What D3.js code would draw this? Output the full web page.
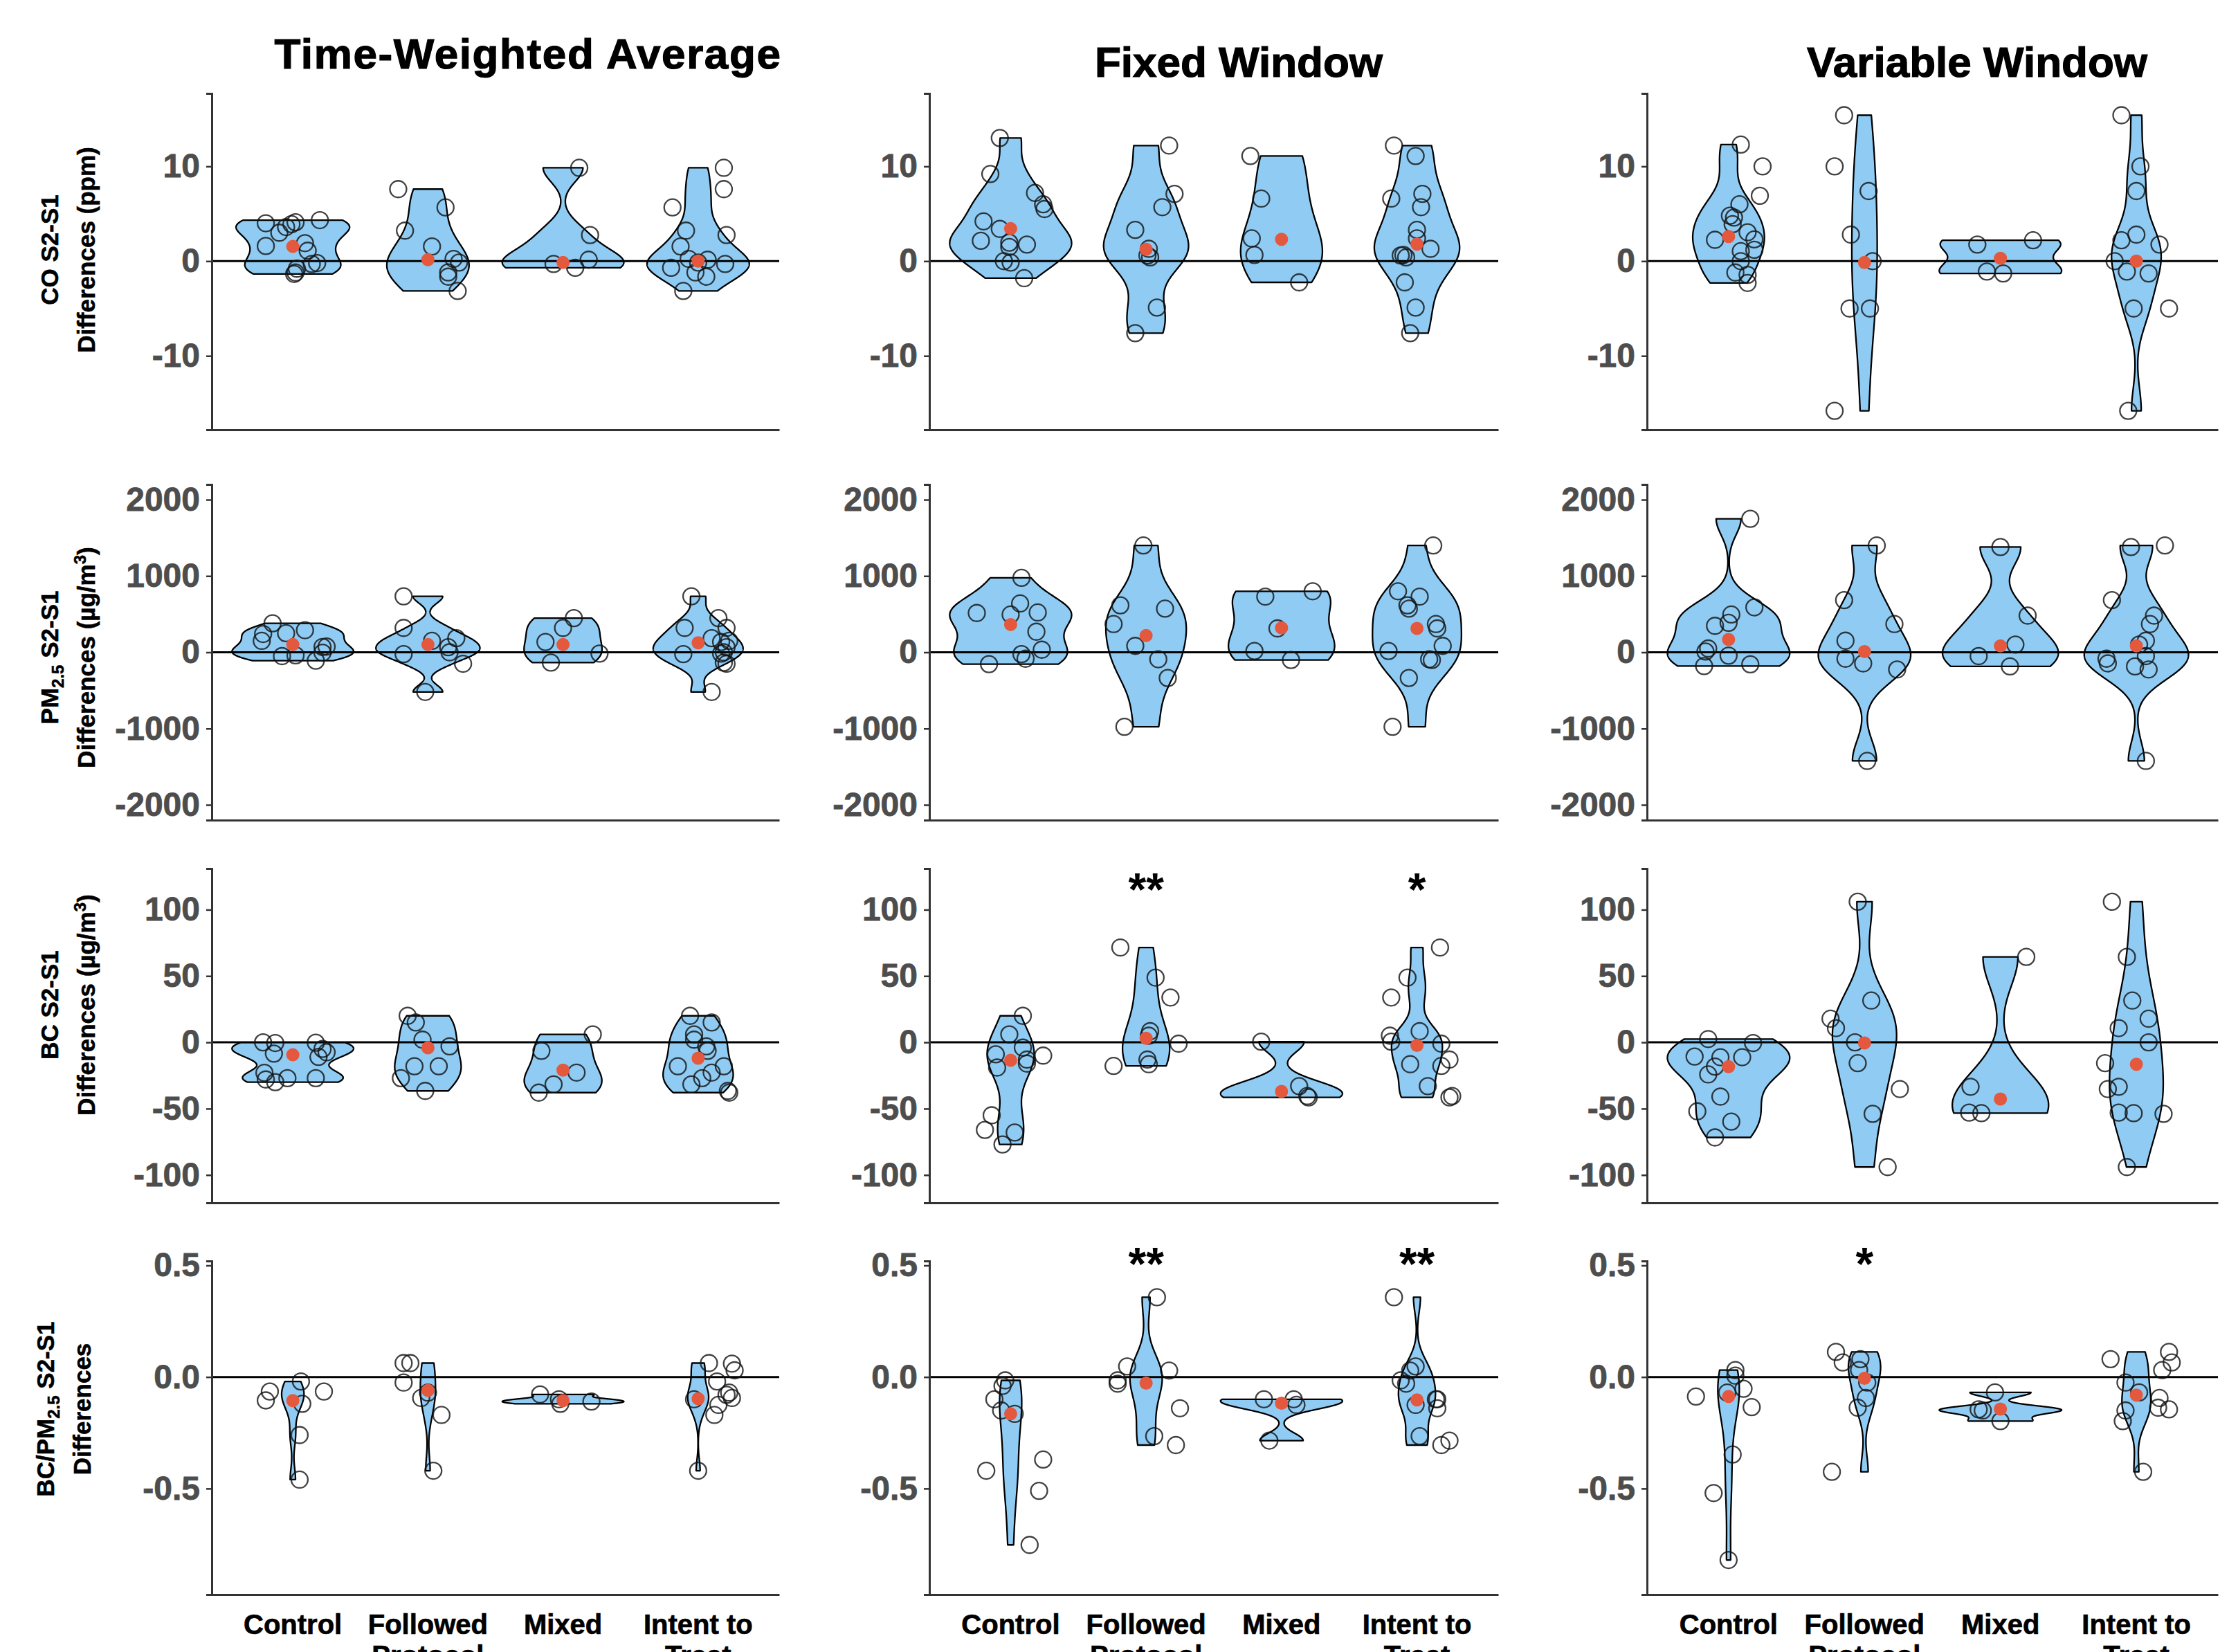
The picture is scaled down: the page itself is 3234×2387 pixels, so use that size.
<!DOCTYPE html>
<html>
<head>
<meta charset="utf-8">
<script src="https://cdn.jsdelivr.net/npm/d3@7"></script>
<style>
  body { margin: 0; background: #fff; }
  text { font-family: "Liberation Sans", Arial, Helvetica, sans-serif; }
</style>
</head>
<body>
<script>
// ---- data: each point is [jitter offset (category units), value] ----
var categories = ["Control", "Followed Protocol", "Mixed", "Intent to Treat"];
var catLines = [["Control"], ["Followed", "Protocol"], ["Mixed"], ["Intent to", "Treat"]];
var methods = ["Time-Weighted Average", "Fixed Window", "Variable Window"];

// CO S2-S1 (ppm)
var coTWA = [
  [[-0.20,4.0],[-0.10,3.0],[-0.05,3.6],[-0.01,3.9],[0.02,4.1],[0.20,4.33],[-0.20,1.6],[0.09,1.9],[0.11,1.1],[0.14,-0.3],[0.18,-0.2],[0.03,-0.8],[0.02,-1.2],[0.01,-1.35]],
  [[-0.22,7.6],[0.13,5.67],[-0.17,3.22],[0.03,1.55],[0.19,0.24],[0.23,-0.15],[0.15,-1.19],[0.15,-1.64],[0.22,-3.15]],
  [[0.12,9.85],[0.20,2.75],[0.19,0.15],[-0.07,-0.3],[0.09,-0.7]],
  [[0.19,9.85],[0.19,7.6],[-0.19,5.67],[-0.09,3.22],[0.21,2.75],[-0.13,1.55],[-0.07,0.24],[0.07,0.15],[0.0,-0.15],[0.2,-0.3],[-0.2,-0.7],[-0.02,-1.19],[0.06,-1.64],[-0.11,-3.15]]
];
var coFW = [
  [[-0.08,13.0],[-0.15,9.2],[0.18,7.2],[0.24,6.0],[0.25,5.5],[-0.20,4.2],[-0.08,3.4],[-0.22,2.15],[-0.01,1.95],[-0.01,1.5],[0.12,1.75],[-0.05,0.0],[0.0,-0.15],[0.10,-1.8]],
  [[0.17,12.2],[0.21,7.1],[0.12,5.7],[-0.08,3.3],[0.02,1.3],[0.01,0.6],[0.03,0.4],[0.08,-4.9],[-0.08,-7.6]],
  [[-0.23,11.1],[-0.15,6.6],[-0.22,2.4],[-0.2,0.65],[0.13,-2.24]],
  [[-0.17,12.2],[-0.01,11.1],[0.04,7.1],[-0.19,6.6],[0.03,5.7],[0.0,3.3],[0.0,2.4],[0.10,1.3],[-0.10,0.65],[-0.12,0.6],[-0.08,0.4],[-0.09,-2.24],[-0.01,-4.9],[-0.05,-7.6]]
];
var coVW = [
  [[0.09,12.3],[0.25,10.0],[0.23,6.9],[0.08,6.0],[0.01,4.8],[0.04,4.6],[0.03,3.9],[-0.10,2.25],[0.14,3.05],[0.19,2.3],[0.09,1.05],[0.19,1.2],[0.09,0.0],[0.05,-1.2],[0.14,-1.45],[0.14,-2.3]],
  [[-0.15,15.4],[-0.22,10.0],[0.03,7.4],[-0.10,2.8],[0.06,0.0],[-0.11,-5.0],[0.04,-5.0],[-0.22,-15.8]],
  [[-0.17,1.75],[0.24,2.2],[-0.10,-1.1],[0.02,-1.3]],
  [[-0.11,15.4],[0.03,10.0],[0.0,7.4],[0.0,2.8],[-0.11,2.2],[0.17,1.75],[-0.16,0.0],[-0.07,-1.1],[0.09,-1.3],[-0.02,-5.0],[0.24,-5.0],[-0.06,-15.8]]
];
var coMid = [[1.55, 0.15, -0.15, 0.0], [3.43, 1.25, 2.3, 1.8], [2.6, -0.15, 0.3, 0.0]];

// PM2.5 S2-S1 (ug/m3)
var pmTWA = [
  [[-0.15,380],[-0.22,240],[-0.23,150],[-0.05,250],[0.09,290],[-0.08,-50],[0.02,-40],[0.17,-110],[0.22,70],[0.25,75],[0.22,-5]],
  [[-0.18,734],[-0.18,320],[-0.18,-24],[0.03,150],[0.21,185],[0.15,67],[0.16,0],[0.26,-150],[-0.02,-520]],
  [[0.08,448],[0.0,320],[-0.13,135],[-0.09,-135],[0.27,-17]],
  [[-0.05,734],[0.15,448],[-0.10,320],[0.21,320],[0.10,185],[0.23,150],[0.17,135],[0.21,67],[0.19,0],[0.17,-17],[-0.11,-24],[0.19,-135],[0.21,-150],[0.10,-520]]
];
var pmFW = [
  [[0.08,976],[0.07,640],[-0.25,515],[0.0,495],[0.20,522],[0.19,270],[0.23,34],[0.08,-24],[0.11,-84],[-0.16,-155]],
  [[-0.02,1400],[-0.19,616],[0.14,572],[-0.24,370],[-0.08,84],[0.09,-91],[0.16,-337],[-0.16,-976]],
  [[-0.12,730],[0.23,800],[-0.03,313],[-0.20,17],[0.07,-101]],
  [[0.12,1400],[-0.14,800],[0.02,730],[-0.07,616],[-0.06,572],[0.14,370],[0.15,313],[0.19,84],[-0.21,17],[0.09,-91],[0.11,-101],[-0.06,-337],[-0.18,-976]]
];
var pmVW = [
  [[0.16,1750],[0.19,589],[0.02,495],[0.0,387],[-0.10,347],[-0.17,10],[-0.15,50],[0.0,-44],[-0.18,-180],[0.16,-158]],
  [[0.09,1400],[-0.15,684],[0.22,370],[-0.14,152],[-0.14,-84],[-0.01,-145],[0.24,-225],[0.02,-1424]],
  [[0.0,1380],[0.20,481],[0.11,101],[-0.16,-50],[0.07,-185]],
  [[0.21,1400],[-0.04,1380],[-0.18,684],[0.13,481],[0.10,370],[0.07,152],[0.02,101],[0.07,-50],[-0.22,-84],[-0.21,-145],[-0.01,-185],[0.09,-225],[0.07,-1424]]
];
var pmMid = [[101, 101, 101, 125], [364, 219, 320, 313], [168, 10, 84, 84]];

// BC S2-S1 (ug/m3)
var bcTWA = [
  [[-0.22,0],[-0.13,-0.5],[0.17,-0.3],[-0.14,-8.5],[0.22,-5],[0.25,-7.5],[0.19,-11],[-0.21,-23],[-0.20,-28],[-0.04,-27],[0.17,-27],[-0.13,-30]],
  [[-0.15,20],[-0.09,15],[-0.04,2],[0.16,-3],[0.08,-18],[-0.10,-18],[-0.20,-27],[-0.02,-36.6]],
  [[0.22,6],[-0.16,-6.4],[0.10,-22.8],[-0.07,-31.7],[-0.18,-37.9]],
  [[-0.06,20],[0.10,15],[-0.03,6],[-0.03,2],[0.06,-3],[0.07,-6.4],[-0.15,-18],[0.19,-18],[0.10,-22.8],[0.03,-27],[-0.05,-31.7],[0.22,-36.6],[0.23,-37.9]]
];
var bcFW = [
  [[0.09,20],[-0.01,6],[0.09,-4],[0.24,-10],[-0.11,-9],[0.12,-13],[0.12,-16],[-0.10,-19],[-0.14,-55],[-0.19,-66],[0.03,-68],[-0.06,-77]],
  [[-0.19,71.5],[0.07,48.8],[0.18,33.8],[0.03,8.4],[0.02,5],[0.24,-1],[0.01,-13],[0.02,-16.5],[-0.24,-17.8]],
  [[-0.15,0.5],[0.13,-33],[0.19,-40.5],[0.2,-41.5]],
  [[0.17,71.5],[-0.07,48.8],[-0.19,33.8],[0.02,8.4],[-0.20,5],[-0.19,0.5],[0.18,-1],[0.24,-13],[-0.05,-16.5],[0.18,-17.8],[0.08,-33],[0.26,-40.5],[0.24,-41.5]]
];
var bcVW = [
  [[-0.15,2.5],[0.18,-0.5],[-0.25,-10.7],[-0.06,-11.2],[0.10,-11.2],[-0.10,-18.3],[-0.15,-24.2],[-0.06,-40.9],[-0.23,-52],[0.02,-59.8],[-0.10,-71.7]],
  [[-0.05,106],[-0.25,17.8],[-0.21,10.7],[0.05,31.5],[-0.07,0],[-0.05,-15.7],[0.26,-35.2],[0.06,-53.9],[0.17,-94]],
  [[0.19,64.4],[-0.22,-33.5],[-0.23,-53],[-0.14,-53.4]],
  [[-0.18,106],[-0.07,64.4],[-0.03,31.5],[0.09,17.8],[-0.13,10.7],[0.09,0],[-0.23,-15.7],[-0.13,-33.5],[-0.21,-35.2],[-0.13,-53],[-0.02,-53.4],[0.20,-53.9],[-0.07,-94]]
];
var bcMid = [[-9.4, -4.1, -21, -12], [-13.5, 3.0, -37, -2.3], [-18.3, -0.5, -42.7, -16.5]];

// BC/PM2.5 S2-S1
var ratioTWA = [
  [[0.06,-0.02],[-0.17,-0.065],[-0.20,-0.105],[0.23,-0.065],[0.07,-0.12],[0.05,-0.26],[0.05,-0.46]],
  [[-0.18,0.0625],[-0.13,0.0625],[-0.18,-0.025],[-0.05,-0.094],[0.0,-0.07],[0.10,-0.17],[0.04,-0.42]],
  [[-0.17,-0.078],[-0.03,-0.1],[-0.02,-0.12],[0.21,-0.11]],
  [[0.08,0.0625],[0.25,0.06],[0.27,0.03],[0.14,-0.02],[0.23,-0.07],[0.21,-0.08],[0.25,-0.094],[-0.03,-0.1],[0.15,-0.125],[0.12,-0.17],[0.0,-0.42]]
];
var ratioFW = [
  [[-0.04,-0.015],[-0.06,-0.04],[-0.12,-0.10],[-0.07,-0.15],[0.03,-0.165],[-0.18,-0.42],[0.24,-0.37],[0.21,-0.51],[0.14,-0.7525]],
  [[0.08,0.3575],[-0.14,0.0475],[-0.21,-0.015],[-0.21,-0.03],[0.17,0.029],[0.25,-0.14],[0.06,-0.265],[0.22,-0.305]],
  [[-0.13,-0.1],[0.09,-0.1],[0.11,-0.125],[-0.09,-0.285]],
  [[-0.17,0.3575],[-0.01,0.0475],[-0.05,0.029],[-0.12,-0.015],[-0.08,-0.03],[0.14,-0.1],[0.15,-0.1],[-0.01,-0.125],[0.15,-0.14],[0.02,-0.265],[0.24,-0.285],[0.18,-0.305]]
];
var ratioVW = [
  [[0.05,0.031],[0.05,0.006],[-0.24,-0.0875],[0.11,-0.0525],[0.17,-0.135],[-0.01,-0.07],[0.03,-0.3475],[-0.11,-0.52],[0.0,-0.82]],
  [[-0.21,0.1125],[-0.16,0.065],[-0.03,0.08],[-0.04,0.031],[0.02,-0.025],[0.01,-0.094],[-0.05,-0.1375],[-0.24,-0.425]],
  [[-0.04,-0.069],[-0.16,-0.145],[-0.13,-0.15],[0.0,-0.1975]],
  [[0.24,0.1125],[0.26,0.065],[-0.19,0.08],[0.19,0.031],[-0.08,-0.025],[0.02,-0.069],[0.17,-0.094],[0.16,-0.1375],[-0.08,-0.15],[0.24,-0.145],[-0.10,-0.1975],[0.05,-0.425]]
];
var ratioMid = [[-0.106, -0.06, -0.106, -0.0975], [-0.165, -0.0275, -0.1175, -0.1025], [-0.0875, -0.006, -0.144, -0.081]];

// axis ranges and ticks
var coDomain = [-17.8, 17.7], coTicks = [-10, 0, 10], coTickLabels = ["-10", "0", "10"];
var pmDomain = [-2200, 2200], pmTicks = [-2000, -1000, 0, 1000, 2000], pmTickLabels = ["-2000", "-1000", "0", "1000", "2000"];
var bcDomain = [-121, 131], bcTicks = [-100, -50, 0, 50, 100], bcTickLabels = ["-100", "-50", "0", "50", "100"];
var ratioDomain = [-0.975, 0.52], ratioTicks = [-0.5, 0, 0.5], ratioTickLabels = ["-0.5", "0.0", "0.5"];

// significance marks: [row, column, category, label, value]
var stars = [[2, 1, 1, "**", 123], [2, 1, 3, "*", 123], [3, 1, 1, "**", 0.555], [3, 1, 3, "**", 0.555], [3, 2, 1, "*", 0.555]];

var coTitle = [[["CO S2-S1", ""]], [["Differences (ppm)", ""]]];
var pmTitle = [[["PM", ""], ["2.5", "sub"], [" S2-S1", ""]], [["Differences (\u00b5g/m", ""], ["3", "sup"], [")", ""]]];
var bcTitle = [[["BC S2-S1", ""]], [["Differences (\u00b5g/m", ""], ["3", "sup"], [")", ""]]];
var ratioTitle = [[["BC/PM", ""], ["2.5", "sub"], [" S2-S1", ""]], [["Differences", ""]]];

// ---- layout ----
var W = 3234, H = 2387;
var colX = [[306, 1126], [1343, 2165], [2380, 3205]];
var rowY = [[135, 621], [700, 1185], [1255, 1738], [1822, 2304]];
var titleX = [763, 1790, 2857], titleY = [99, 111, 111], titleSpacing = [1.6, 0, 0];
var yTitleCenter = [361, 950, 1452, 2036];
var violinFill = "#8fcbf3", meanColor = "#e4583e", axisColor = "#333333";

var rows = [
  { sets: [coTWA, coFW, coVW], mids: coMid, domain: coDomain, ticks: coTicks, labels: coTickLabels, title: coTitle },
  { sets: [pmTWA, pmFW, pmVW], mids: pmMid, domain: pmDomain, ticks: pmTicks, labels: pmTickLabels, title: pmTitle },
  { sets: [bcTWA, bcFW, bcVW], mids: bcMid, domain: bcDomain, ticks: bcTicks, labels: bcTickLabels, title: bcTitle },
  { sets: [ratioTWA, ratioFW, ratioVW], mids: ratioMid, domain: ratioDomain, ticks: ratioTicks, labels: ratioTickLabels, title: ratioTitle }
];

// gaussian kde like R density(bw = "nrd0"), trimmed to data range
function bwNrd0(v) {
  var s = v.slice().sort(d3.ascending);
  var sd = d3.deviation(s);
  var iqr = d3.quantileSorted(s, 0.75) - d3.quantileSorted(s, 0.25);
  var lo = Math.min(sd, iqr / 1.34);
  if (!lo) lo = sd || Math.abs(s[0]) || 1;
  return 0.9 * lo * Math.pow(s.length, -0.2);
}
function kde(v) {
  var bw = bwNrd0(v);
  var ext = d3.extent(v);
  return d3.range(512).map(function(k) {
    var t = ext[0] + (ext[1] - ext[0]) * k / 511;
    var d = d3.mean(v, function(x) { var u = (t - x) / bw; return Math.exp(-0.5 * u * u); }) / (bw * Math.sqrt(2 * Math.PI));
    return [t, d];
  });
}

var svg = d3.select("body").append("svg")
  .attr("width", W).attr("height", H)
  .style("display", "block")
  .style("background", "#fff");

// column titles
svg.selectAll(".coltitle").data(methods).enter().append("text")
  .attr("class", "coltitle")
  .attr("x", function(d, i) { return titleX[i]; })
  .attr("y", function(d, i) { return titleY[i]; })
  .attr("text-anchor", "middle")
  .attr("letter-spacing", function(d, i) { return titleSpacing[i]; })
  .attr("font-size", 62).attr("font-weight", "bold").attr("fill", "#000")
  .attr("stroke", "#000").attr("stroke-width", 1.2)
  .text(function(d) { return d; });

rows.forEach(function(row, r) {
  var y = d3.scaleLinear().domain(row.domain).range([rowY[r][1], rowY[r][0]]);

  // y axis title (two lines, rotated)
  var lineX = r === 3 ? [78, 131] : [84, 137];
  row.title.forEach(function(segs, li) {
    var t = svg.append("text")
      .attr("transform", "translate(" + lineX[li] + "," + yTitleCenter[r] + ") rotate(-90)")
      .attr("text-anchor", "middle")
      .attr("font-size", 35).attr("font-weight", "bold").attr("fill", "#000")
      .attr("stroke", "#000").attr("stroke-width", 0.6);
    var shift = 0;
    segs.forEach(function(sg) {
      var ts = t.append("tspan").text(sg[0]);
      var target = sg[1] === "sub" ? 8 : sg[1] === "sup" ? -13 : 0;
      if (target !== shift) { ts.attr("dy", target - shift); shift = target; }
      if (sg[1]) ts.attr("font-size", 24);
    });
  });

  row.sets.forEach(function(groups, c) {
    var x = d3.scalePoint().domain(categories).range(colX[c]).padding(0.6);
    var step = x.step();
    var g = svg.append("g");

    var dens = groups.map(function(pts) { return kde(pts.map(function(p) { return p[1]; })); });
    var maxD = d3.max(dens, function(d) { return d3.max(d, function(e) { return e[1]; }); });

    // violins
    dens.forEach(function(d, i) {
      var cx = x(categories[i]);
      var area = d3.area()
        .y(function(e) { return y(e[0]); })
        .x0(function(e) { return cx - e[1] / maxD * 0.45 * step; })
        .x1(function(e) { return cx + e[1] / maxD * 0.45 * step; });
      g.append("path").datum(d)
        .attr("d", area)
        .attr("fill", violinFill)
        .attr("stroke", "#000")
        .attr("stroke-width", 2.3)
        .attr("stroke-linejoin", "round");
    });

    // zero line
    g.append("line")
      .attr("x1", colX[c][0]).attr("x2", colX[c][1])
      .attr("y1", y(0)).attr("y2", y(0))
      .attr("stroke", "#000").attr("stroke-width", 3);

    // jittered points
    groups.forEach(function(pts, i) {
      g.selectAll(null).data(pts).enter().append("circle")
        .attr("cx", function(p) { return x(categories[i]) + p[0] * step; })
        .attr("cy", function(p) { return y(p[1]); })
        .attr("r", 12)
        .attr("fill", "none")
        .attr("stroke", "#111")
        .attr("stroke-opacity", 0.8)
        .attr("stroke-width", 2.3);
    });

    // mean markers
    g.selectAll(null).data(row.mids[c]).enter().append("circle")
      .attr("cx", function(m, i) { return x(categories[i]); })
      .attr("cy", function(m) { return y(m); })
      .attr("r", 9.5)
      .attr("fill", meanColor);

    // axes
    var ya = g.append("g")
      .attr("transform", "translate(" + colX[c][0] + ",0)")
      .call(d3.axisLeft(y).tickValues(row.ticks)
        .tickFormat(function(d, i) { return row.labels[i]; })
        .tickSizeOuter(0).tickSize(8).tickPadding(9));
    ya.select(".domain").attr("stroke", axisColor).attr("stroke-width", 3);
    ya.selectAll(".tick line").attr("stroke", axisColor).attr("stroke-width", 2.5);
    ya.selectAll(".tick text")
      .attr("font-family", "'Liberation Sans', Arial, sans-serif")
      .attr("font-size", 48).attr("font-weight", "bold").attr("fill", "#4d4d4d")
      .attr("stroke", "#4d4d4d").attr("stroke-width", 0.8);

    var xa = g.append("g")
      .attr("transform", "translate(0," + rowY[r][1] + ")")
      .call(d3.axisBottom(x).tickSize(0).tickSizeOuter(0).tickFormat(""));
    xa.select(".domain").attr("stroke", axisColor).attr("stroke-width", 3);

    // category labels under the last row (second lines run off the bottom edge, as in the original)
    if (r === rows.length - 1) {
      categories.forEach(function(cat, i) {
        var t = g.append("text")
          .attr("x", x(cat)).attr("y", rowY[r][1] + 57)
          .attr("text-anchor", "middle")
          .attr("font-size", 40).attr("font-weight", "bold").attr("fill", "#000")
          .attr("stroke", "#000").attr("stroke-width", 0.7);
        catLines[i].forEach(function(line, li) {
          t.append("tspan").attr("x", x(cat)).attr("dy", li === 0 ? 0 : 45).text(line);
        });
      });
    }

    // significance stars
    stars.filter(function(s) { return s[0] === r && s[1] === c; }).forEach(function(s) {
      g.append("text")
        .attr("x", x(categories[s[2]]))
        .attr("y", y(s[4]) + 38)
        .attr("text-anchor", "middle")
        .attr("font-size", 66).attr("font-weight", "bold").attr("fill", "#000")
        .text(s[3]);
    });
  });
});
</script>
</body>
</html>
